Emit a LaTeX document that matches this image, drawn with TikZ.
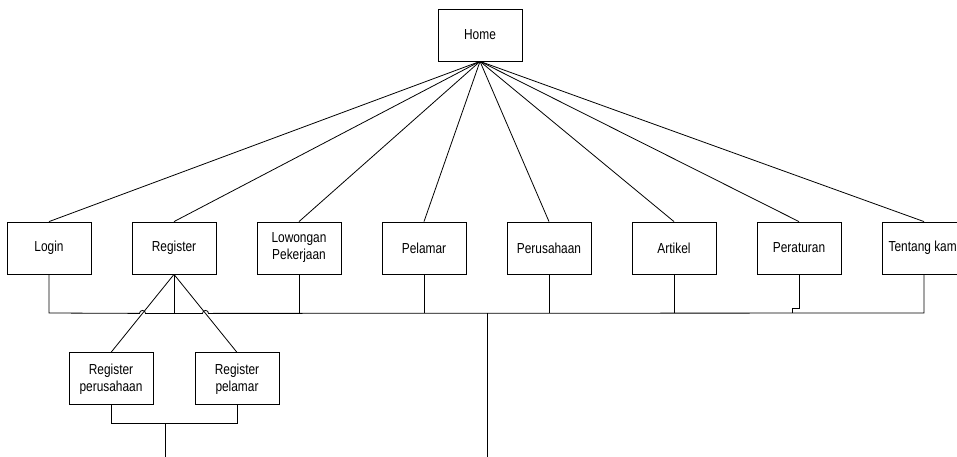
\documentclass[tikz,border=0pt]{standalone}
\usepackage{fontspec}
\setmainfont{Liberation Sans}[FakeStretch=0.82]
\usetikzlibrary{positioning,calc}

\begin{document}
\begin{tikzpicture}[x=1pt,y=1pt,line width=0.8pt,node distance=125pt,
    box/.style={draw,minimum width=84pt,minimum height=52pt,inner xsep=1pt,align=center,
        font=\fontsize{14.5}{17}\selectfont}]
        \useasboundingbox (0,0) rectangle (957,-457);
        \node[box] (home) at (480,-35)     {Home};
        \node[box] (login) at (49,-248)    {Login};
        \node[box] (register) [right of=login]   {Register};
        \node[box] (lowongan) [right of=register] {Lowongan\\Pekerjaan};
        \node[box] (pelamar) [right of=lowongan]  {Pelamar};
        \node[box] (perusahaan) [right of=pelamar] {Perusahaan};
        \node[box] (artikel) [right of=perusahaan] {Artikel};
        \node[box] (peraturan) [right of=artikel]  {Peraturan};
        \node[box] (tentang) [right of=peraturan]  {Tentang kami};
        \node[box] (regper) [below=78pt of register, xshift=-63pt] {Register\\perusahaan};
        \node[box] (regpel) [below=78pt of register, xshift=63pt]  {Register\\pelamar};
        \path
        (home.south) edge (login.north)
        (home.south) edge (register.north)
        (home.south) edge (lowongan.north)
        (home.south) edge (pelamar.north)
        (home.south) edge (perusahaan.north)
        (home.south) edge (artikel.north)
        (home.south) edge (peraturan.north)
        (home.south) edge (tentang.north)
        (register.south) edge (regper.north)
        (register.south) edge (regpel.north)
        ;

        % bus line with hops over the register lines
        \coordinate (bus) at (0,-313);
        \coordinate (hopA) at ($(register.south)!0.5!(regper.north)$);
        \coordinate (hopB) at ($(register.south)!0.5!(regpel.north)$);
        \draw (login.south) -- (login.south |- bus) -- ([xshift=-3pt]hopA)
            arc[start angle=180,end angle=0,radius=3pt] -- ([xshift=-3pt]hopB)
            arc[start angle=180,end angle=0,radius=3pt] -- (tentang.south |- bus) -- (tentang.south);
        \foreach \n in {register,lowongan,pelamar,perusahaan,artikel}
            \draw (\n.south) -- (\n.south |- bus);
        \draw (peraturan.south) -- ++(0,-34) -- ++(-7,0) -- ++(0,-5);
        \coordinate (mainEnd) at (487,-457);
        \draw (mainEnd |- bus) -- (mainEnd);

        % sub bus
        \coordinate (subbus) at (0,-423);
        \coordinate (subEnd) at (165,-457);
        \draw (regper.south) -- (regper.south |- subbus) -- (regpel.south |- subbus) -- (regpel.south);
        \draw (subEnd |- subbus) -- (subEnd);
    \end{tikzpicture}
\end{document}
